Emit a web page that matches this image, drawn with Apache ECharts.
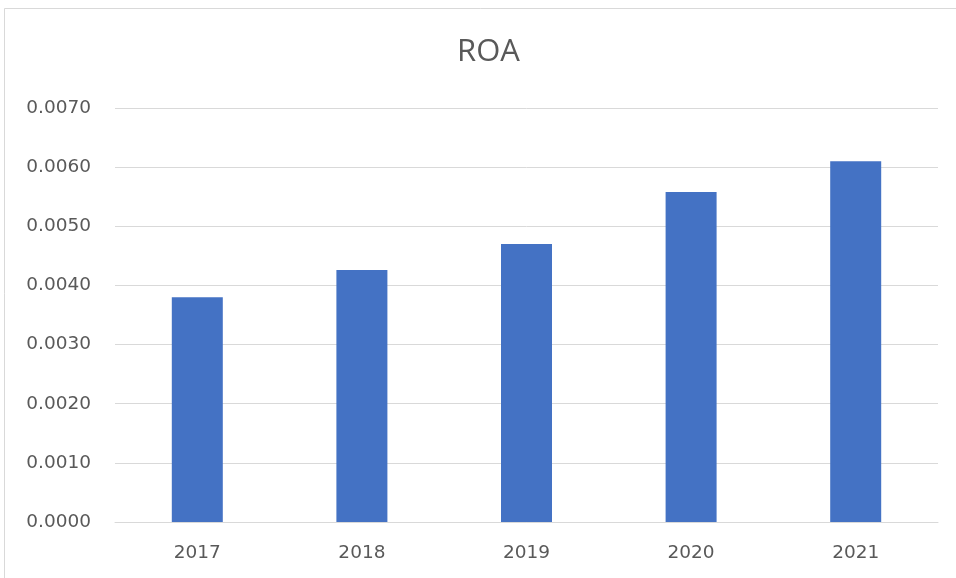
<!DOCTYPE html>
<html>
<head>
<meta charset="utf-8">
<script src="https://cdn.jsdelivr.net/npm/echarts@6/dist/echarts.min.js"></script>
<style>html,body{margin:0;padding:0;background:#fff;}#c{width:956px;height:578px;}</style>
</head>
<body>
<div id="c"></div>
<script>
var categories = ['2017', '2018', '2019', '2020', '2021'];
var roaValues = [0.0038, 0.00426, 0.0047, 0.00558, 0.0061];
var chartTitle = 'ROA';

var chart = echarts.init(document.getElementById('c'), null, {renderer: 'canvas'});
chart.setOption({
  backgroundColor: '#ffffff',
  animation: false,
  title: {
    text: chartTitle,
    left: 452,
    top: 32,
    textStyle: {fontFamily: 'Open Sans', fontSize: 31, fontWeight: 'normal', color: '#595959'}
  },
  graphic: [{
    type: 'rect',
    shape: {x: 4.5, y: 8.5, width: 1000, height: 1000},
    style: {fill: 'none', stroke: '#d9d9d9', lineWidth: 1},
    silent: true
  }],
  grid: {left: 115, right: 18, top: 108, bottom: 56, containLabel: false},
  xAxis: {
    type: 'category',
    data: categories,
    axisLine: {show: true, lineStyle: {color: '#d9d9d9', width: 1}},
    axisTick: {show: false},
    axisLabel: {fontFamily: 'DejaVu Sans', fontSize: 18.5, color: '#595959', margin: 22}
  },
  yAxis: {
    type: 'value',
    min: 0,
    max: 0.007,
    interval: 0.001,
    axisLine: {show: false},
    axisTick: {show: false},
    splitLine: {lineStyle: {color: '#d9d9d9', width: 1}},
    axisLabel: {
      fontFamily: 'DejaVu Sans', fontSize: 18.5, color: '#595959', margin: 24,
      formatter: function (v) { return v.toFixed(4); }
    }
  },
  series: [{
    type: 'bar',
    data: roaValues,
    barWidth: 51,
    itemStyle: {color: '#4472C4'}
  }]
});
</script>
</body>
</html>
